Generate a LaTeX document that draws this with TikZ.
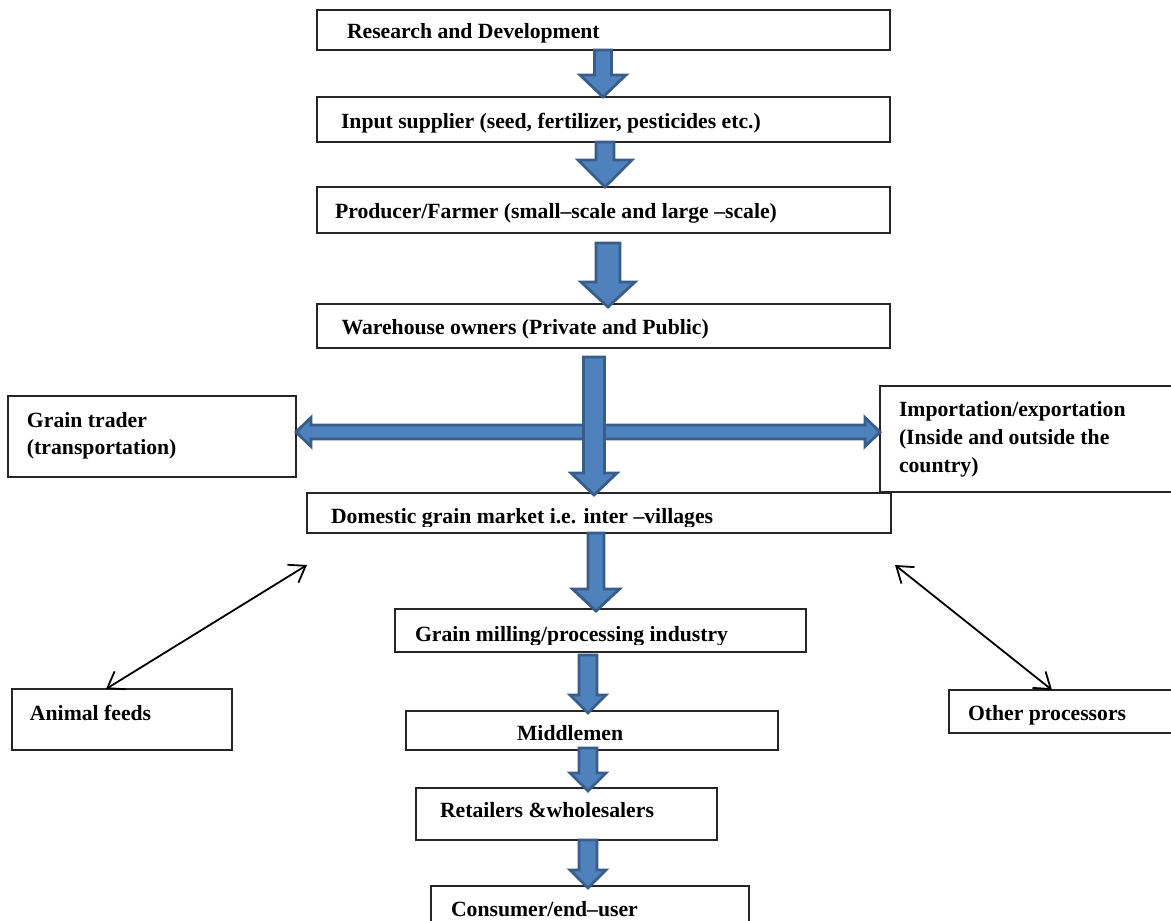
\documentclass[tikz,border=0pt]{standalone}
\usepackage{fontspec}
\setmainfont{Liberation Serif}
\usetikzlibrary{arrows.meta,calc}
\definecolor{blkfill}{HTML}{4F81BD}
\definecolor{blkedge}{HTML}{385D8A}
\newcommand\blkdown[5]{%
  \draw[blk] let \p1=#1, \p2=#2 in
    (\x1-#3,\y1) -- (\x1+#3,\y1) -- (\x1+#3,\y2+#5) -- (\x1+#4,\y2+#5) --
    (\x1,\y2) -- (\x1-#4,\y2+#5) -- (\x1-#3,\y2+#5) -- cycle;}
\tikzset{
  box/.style={draw=black!85, line width=1.1pt, inner sep=0pt, outer sep=0pt},
  lbl/.style={anchor=base west, inner sep=0pt, outer sep=0pt,
    font=\bfseries\fontsize{21.7}{27}\selectfont},
  blk/.style={fill=blkfill, draw=blkedge, line width=2.8pt, line join=miter},
  link/.style={line width=1.8pt, black,
    {Straight Barb[length=15pt,width=21pt]}-{Straight Barb[length=15pt,width=21pt]}}
}
\begin{document}
\begin{tikzpicture}[x=1pt,y=-1pt]
\useasboundingbox (0,0) rectangle (1171,921);
\fill[white] (0,0) rectangle (1171,921);
\clip (0,0) rectangle (1171,921);

% boxes
\node[box, minimum width=573, minimum height=40] (rd)   at (603.5,30)  {};
\node[box, minimum width=573, minimum height=45] (inp)  at (603.5,119.5) {};
\node[box, minimum width=573, minimum height=46] (prod) at (603.5,210) {};
\node[box, minimum width=573, minimum height=44] (ware) at (603.5,326) {};
\node[box, minimum width=288, minimum height=81] (trader) at (152,436.5) {};
\node[box, minimum width=305, minimum height=106] (imp) at (1032.5,439) {};
\node[box, minimum width=584, minimum height=40] (dom)  at (599,513) {};
\node[box, minimum width=411, minimum height=43] (mill) at (600.5,630.5) {};
\node[box, minimum width=372, minimum height=39] (mid)  at (592,730.5) {};
\node[box, minimum width=301, minimum height=52] (ret)  at (566.5,814) {};
\node[box, minimum width=318, minimum height=49] (cons) at (590,910.5) {};
\node[box, minimum width=220, minimum height=61] (feeds) at (122,719.5) {};
\node[box, minimum width=236, minimum height=43] (other) at (1067,711.5) {};

% labels
\node[lbl] (trd)  at (347,38)  {Research and Development};
\node[lbl] (tinp) at (341,128) {Input supplier (seed, fertilizer, pesticides etc.)};
\node[lbl] (tprod) at (335,218) {Producer/Farmer (small–scale and large –scale)};
\node[lbl] (tware) at (341.5,334) {Warehouse owners (Private and Public)};
\node[lbl] (ttr1) at (27,427) {Grain trader};
\node[lbl] (ttr2) at (27,454) {(transportation)};
\node[lbl] (timp1) at (899,416) {Importation/exportation};
\node[lbl] (timp2) at (899,444) {(Inside and outside the};
\node[lbl] (timp3) at (899,472) {country)};
\begin{scope}
  \clip (300,490) rectangle (900,526);
  \node[lbl] (tdom) at (331,523) {Domestic grain market i.e. inter –villages};
\end{scope}
\begin{scope}
  \clip (390,605) rectangle (810,644);
  \node[lbl] (tmill) at (415,641) {Grain milling/processing industry};
\end{scope}
\node[lbl] (tmid) at (517,740) {Middlemen};
\node[lbl] (tret) at (440,817) {Retailers \&wholesalers};
\node[lbl] (tcons) at (451,916) {Consumer/end–user};
\node[lbl] (tfeeds) at (30,720) {Animal feeds};
\node[lbl] (tother) at (968,720) {Other processors};

% block arrows
\blkdown{(rd.south -| 603,0)}{(inp.north -| 603,0)}{8.5pt}{23pt}{22pt}
\blkdown{(inp.south -| 605,0)}{(prod.north -| 605,0)}{9pt}{27pt}{27pt}
\blkdown{($(prod.south -| 608,0)+(0,10)$)}{($(ware.north -| 608,0)+(0,3)$)}{12pt}{27pt}{25pt}
\draw[blk] let \p1=(trader.east |- 0,432), \p2=(imp.west |- 0,432) in
  (\x1,\y1) -- (\x1+15pt,\y1+14.5pt) -- (\x1+15pt,\y1+7pt) -- (\x2-15pt,\y1+7pt) --
  (\x2-15pt,\y1+14.5pt) -- (\x2,\y1) -- (\x2-15pt,\y1-14.5pt) -- (\x2-15pt,\y1-7pt) --
  (\x1+15pt,\y1-7pt) -- (\x1+15pt,\y1-14.5pt) -- cycle;
\blkdown{($(ware.south -| 594,0)+(0,9)$)}{($(dom.north -| 594,0)+(0,2)$)}{10.5pt}{23pt}{22pt}
\blkdown{(dom.south -| 596,0)}{($(mill.north -| 596,0)+(0,2)$)}{8pt}{23.5pt}{22pt}
\blkdown{($(mill.south -| 588,0)+(0,3)$)}{($(mid.north -| 588,0)+(0,2)$)}{9pt}{18pt}{18pt}
\blkdown{($(mid.south -| 588,0)+(0,-2)$)}{($(ret.north -| 588,0)+(0,3)$)}{9pt}{18pt}{18pt}
\blkdown{(ret.south -| 588,0)}{($(cons.north -| 588,0)+(0,2)$)}{9pt}{18pt}{18pt}

% thin double arrows
\coordinate (lfree) at (307,565);
\coordinate (rfree) at (895,565);
\draw[link] (lfree) -- (feeds.north -| 106,0);
\draw[link] (rfree) -- (other.north -| 1052,0);
\end{tikzpicture}
\end{document}
